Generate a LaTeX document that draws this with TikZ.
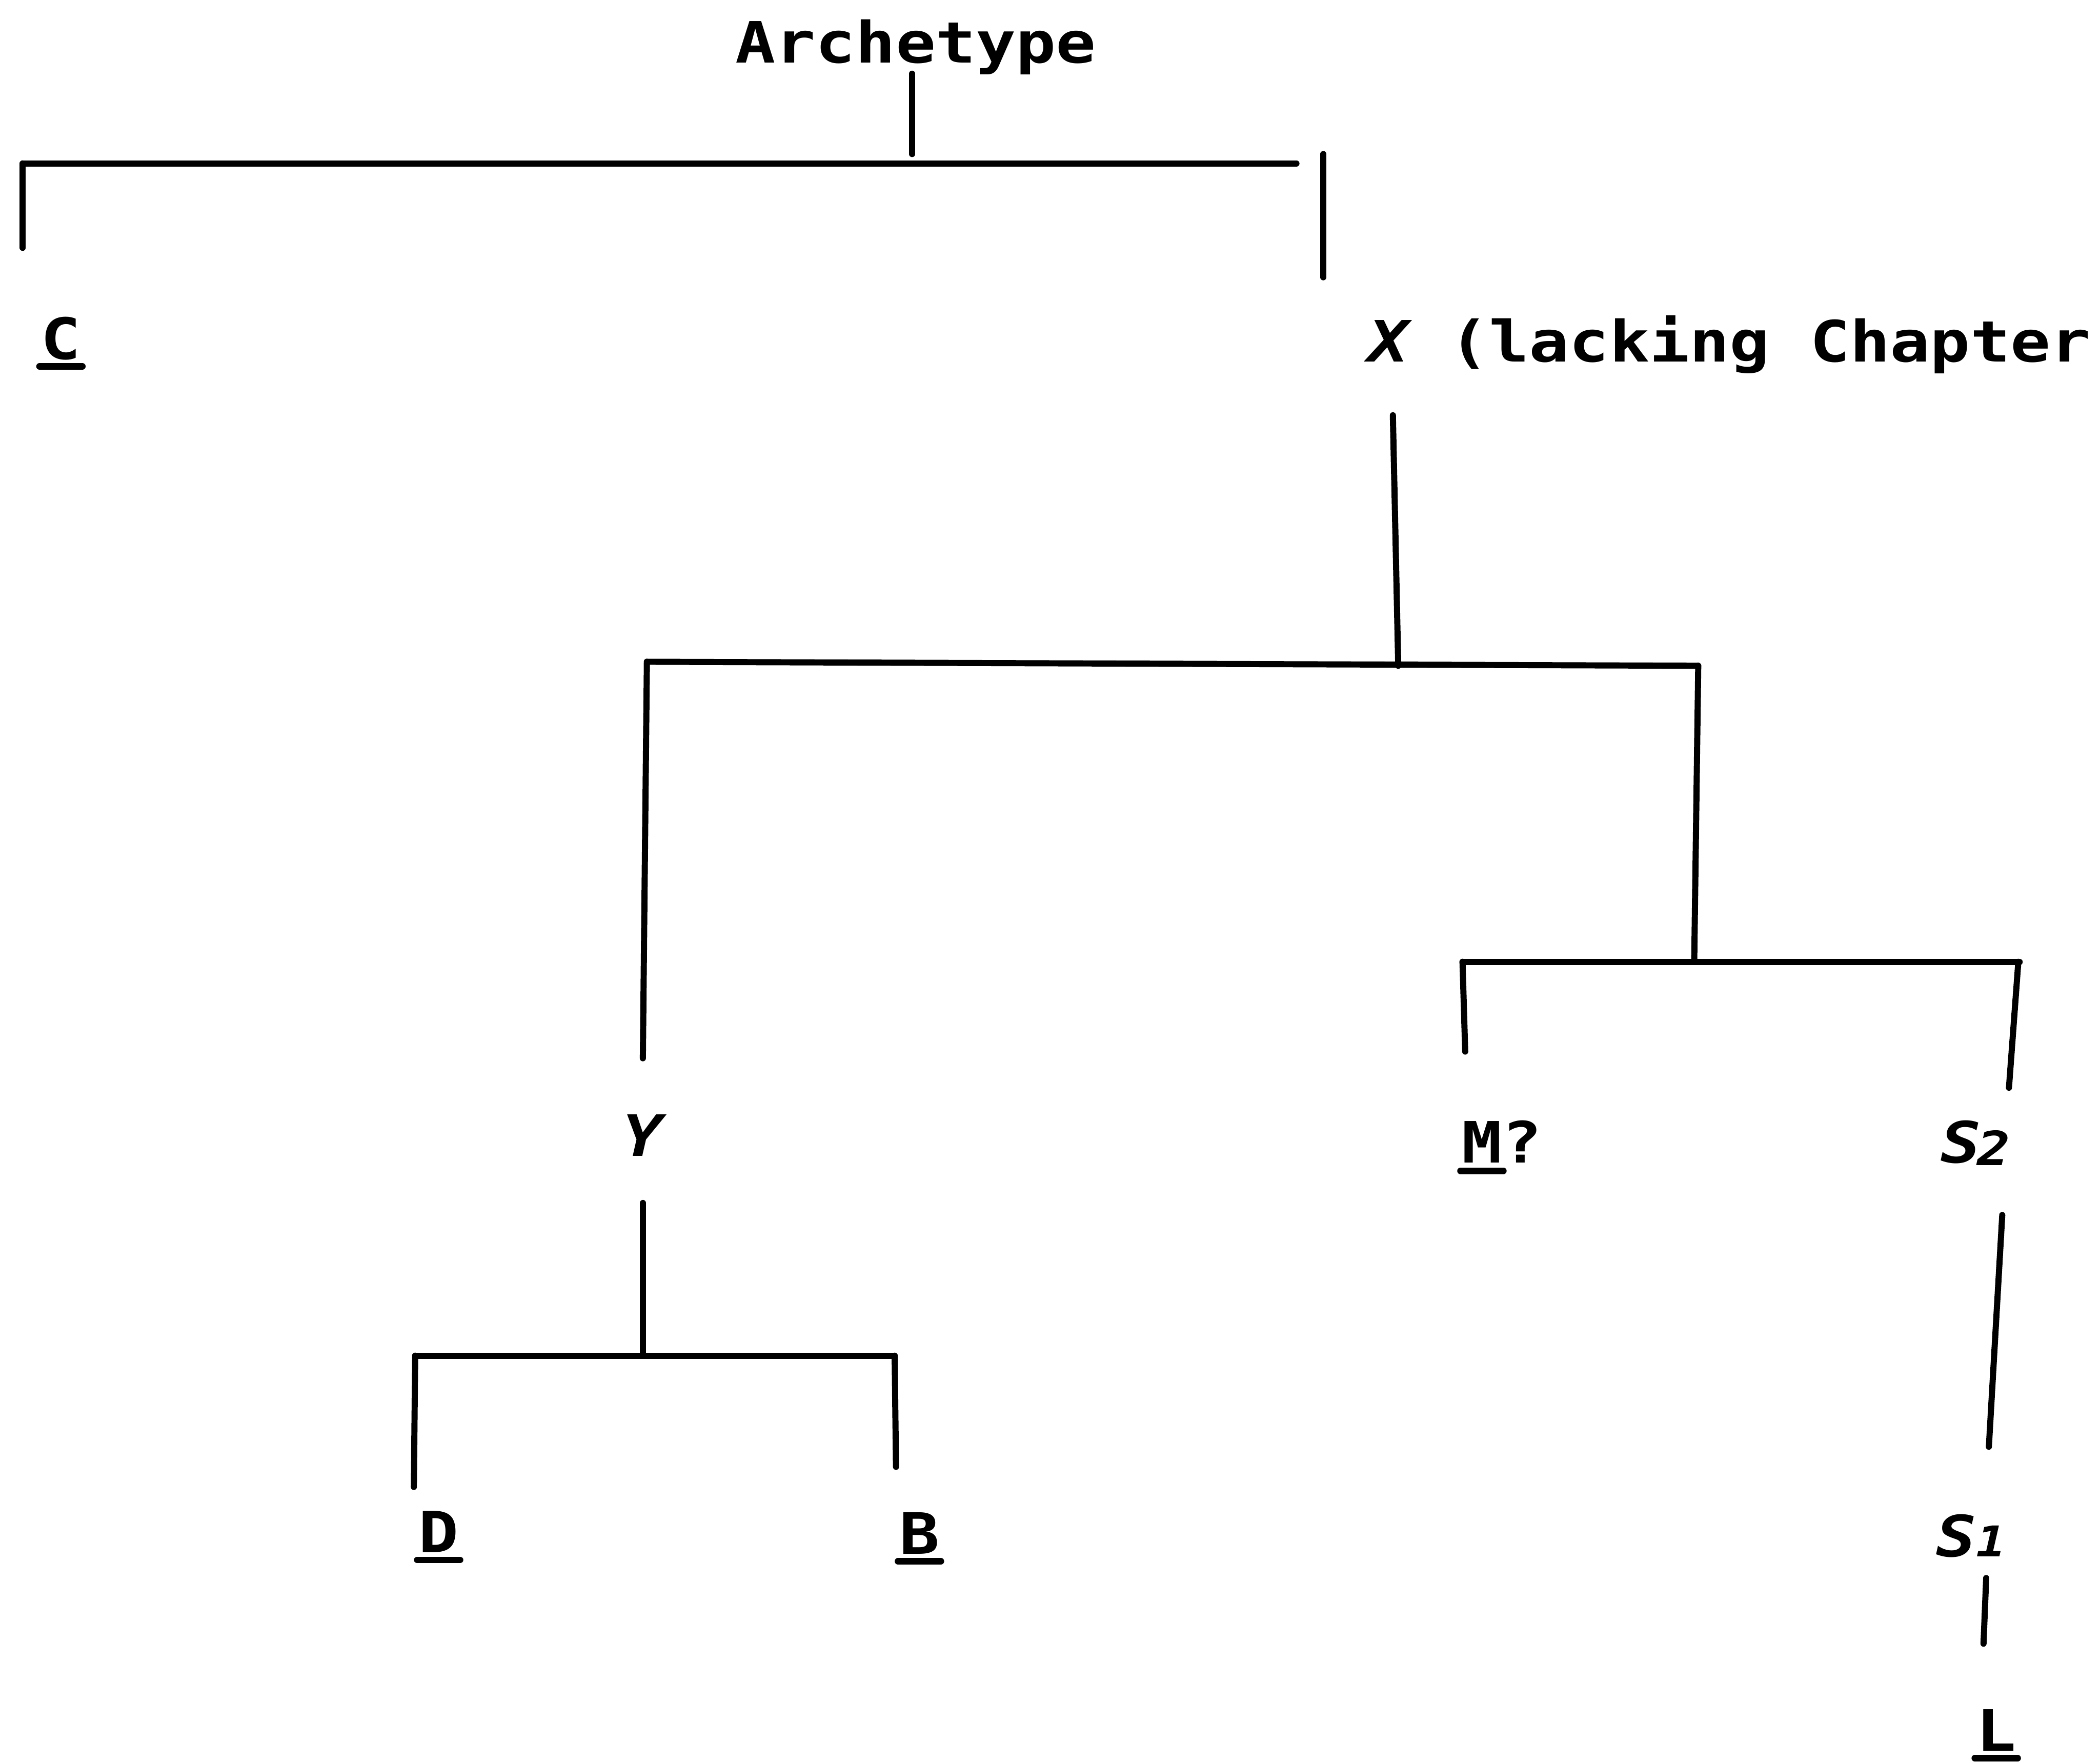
\documentclass[tikz,border=0pt]{standalone}
\usepackage{fontspec}
\setmainfont[FakeStretch=1.17]{DejaVu Sans Mono}
\begin{document}
\begin{tikzpicture}[x=0.02cm, y=-0.02cm,
  lbl/.style={inner sep=0pt, outer sep=0pt, font=\fontsize{24.2}{29}\selectfont\bfseries},
  wlbl/.style={lbl, anchor=base west},
  edge/.style={line width=2.6pt, line cap=round},
  ul/.style={line width=2.8pt, line cap=round}]
\useasboundingbox (0,0) rectangle (1568,1315);

% labels
\node[wlbl] (arch) at (549,47) {Archetype};
\node[lbl, anchor=base] (C) at (45.5,268) {C};
\node[wlbl] (X) at (1022,270) {{\itshape X} (lacking Chapter};
\node[lbl, anchor=base] (Y) at (480,863) {\itshape Y};
\node[wlbl] (M) at (1091.5,868) {M?};
\node[lbl, anchor=base west] (S2) at (1449,868) {\itshape S\kern-1.5pt\raisebox{-1.2pt}{\fontsize{20}{22}\selectfont 2}};
\node[lbl, anchor=base] (D) at (327.5,1159) {D};
\node[lbl, anchor=base] (B) at (686.5,1160) {B};
\node[lbl, anchor=base west] (S1) at (1445.5,1162) {\itshape S\fontsize{18}{20}\selectfont 1};
\node[lbl, anchor=base] (L) at (1490.5,1307) {L};

% underlines
\draw[ul] ([shift={(-16,5.5)}]C.base) -- ([shift={(16,5.5)}]C.base);
\draw[ul] ([shift={(-1,6)}]M.base west) -- ([shift={(31,6)}]M.base west);
\draw[ul] ([shift={(-16,5.5)}]D.base) -- ([shift={(16,5.5)}]D.base);
\draw[ul] ([shift={(-16,5.5)}]B.base) -- ([shift={(16,5.5)}]B.base);
\draw[ul] ([shift={(-16,5.5)}]L.base) -- ([shift={(16,5.5)}]L.base);

% junction coordinates
\coordinate (a1) at (681,55);
\coordinate (a2) at (681,115);
\coordinate (tl) at (17,122);
\coordinate (tr) at (968,122);
\coordinate (cl) at (17,185);
\coordinate (xr1) at (988,115);
\coordinate (xr2) at (988,207);
\coordinate (xs1) at (1040,310);
\coordinate (xs2) at (1044,497);
\coordinate (ml) at (483,494);
\coordinate (mr) at (1268,497);
\coordinate (yd) at (480,790);
\coordinate (rd) at (1265,718);
\coordinate (brl) at (1092,718);
\coordinate (brr) at (1508,718);
\coordinate (md) at (1094,785);
\coordinate (s2u) at (1507,718);
\coordinate (s2d) at (1500,812);
\coordinate (ys1) at (480,898);
\coordinate (ys2) at (480,1012);
\coordinate (bl) at (310,1012);
\coordinate (br) at (668,1012);
\coordinate (dd) at (309,1110);
\coordinate (bd) at (669,1095);
\coordinate (ss1) at (1495,907);
\coordinate (ss2) at (1485,1080);
\coordinate (sl1) at (1483,1178);
\coordinate (sl2) at (1481,1227);

% connectors
\draw[edge] (a1) -- (a2);
\draw[edge] (tl) -- (tr);
\draw[edge] (tl) -- (cl);
\draw[edge] (xr1) -- (xr2);
\draw[edge] (xs1) -- (xs2);
\draw[edge] (ml) -- (mr);
\draw[edge] (ml) -- (yd);
\draw[edge] (mr) -- (rd);
\draw[edge] (brl) -- (brr);
\draw[edge] (brl) -- (md);
\draw[edge] (s2u) -- (s2d);
\draw[edge] (ys1) -- (ys2);
\draw[edge] (bl) -- (br);
\draw[edge] (bl) -- (dd);
\draw[edge] (br) -- (bd);
\draw[edge] (ss1) -- (ss2);
\draw[edge] (sl1) -- (sl2);
\end{tikzpicture}
\end{document}
